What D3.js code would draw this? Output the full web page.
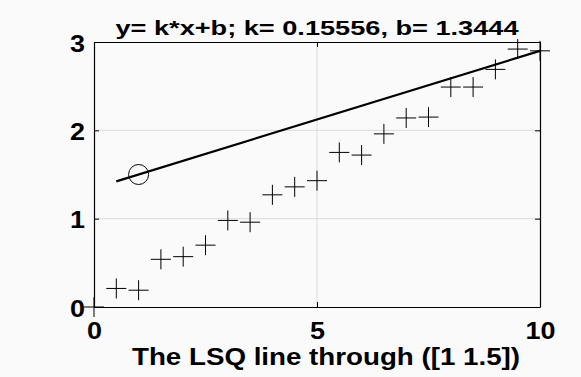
<!DOCTYPE html>
<html>
<head>
<meta charset="utf-8">
<script src="https://cdn.jsdelivr.net/npm/d3@7"></script>
<style>
  body { margin: 0; background: #fafafa; }
  svg { display: block; }
  text { font-family: "Liberation Sans", Arial, sans-serif; font-weight: bold; fill: #000; }
</style>
</head>
<body>
<svg id="chart" width="581" height="377"></svg>
<script>
const xData = [0, 0.5, 1, 1.5, 2, 2.5, 3, 3.5, 4, 4.5, 5, 5.5, 6, 6.5, 7, 7.5, 8, 8.5, 9, 9.5, 10];
const yData = [0, 0.21, 0.19, 0.54, 0.57, 0.70, 0.98, 0.96, 1.27, 1.36, 1.43, 1.75, 1.72, 1.96, 2.14, 2.15, 2.49, 2.49, 2.69, 2.92, 2.90];
const fitK = 0.15556;
const fitB = 1.3444;
const fitX = [0.5, 10];
const anchorPt = [1, 1.5];
const xTicks = [0, 5, 10];
const yTicks = [0, 1, 2, 3];
const title = "y= k*x+b; k= 0.15556, b= 1.3444";
const xLabel = "The LSQ line through ([1 1.5])";

const svg = d3.select("#chart");
const margin = { top: 42, right: 41, bottom: 70, left: 94 };
const width = 581, height = 377;

const x = d3.scaleLinear().domain([0, 10]).range([margin.left, width - margin.right]);
const y = d3.scaleLinear().domain([0, 3]).range([height - margin.bottom, margin.top]);

// the reference font is wider than Arial, so stretch glyphs a bit
const digitW = 15;

// grid (inner ticks only)
svg.append("g")
  .selectAll("line")
  .data(xTicks.slice(1, -1))
  .join("line")
  .attr("x1", d => x(d)).attr("x2", d => x(d))
  .attr("y1", y(0)).attr("y2", y(3))
  .attr("stroke", "#dcdcdc");
svg.append("g")
  .selectAll("line")
  .data(yTicks.slice(1, -1))
  .join("line")
  .attr("y1", d => y(d)).attr("y2", d => y(d))
  .attr("x1", x(0)).attr("x2", x(10))
  .attr("stroke", "#dcdcdc");

// axes, ticks pointing in
const axB = svg.append("g").attr("transform", `translate(0,${y(0)})`)
  .call(d3.axisBottom(x).tickValues(xTicks).tickSizeInner(-5).tickSizeOuter(0).tickFormat(d3.format("d")));
const axT = svg.append("g").attr("transform", `translate(0,${y(3)})`)
  .call(d3.axisTop(x).tickValues(xTicks).tickSizeInner(-5).tickSizeOuter(0).tickFormat(""));
const axL = svg.append("g").attr("transform", `translate(${x(0)},0)`)
  .call(d3.axisLeft(y).tickValues(yTicks).tickSizeInner(-5).tickSizeOuter(0).tickFormat(d3.format("d")));
const axR = svg.append("g").attr("transform", `translate(${x(10)},0)`)
  .call(d3.axisRight(y).tickValues(yTicks).tickSizeInner(-5).tickSizeOuter(0).tickFormat(""));

[axB, axT, axL, axR].forEach(g => {
  g.select(".domain").attr("stroke", "#000").attr("stroke-width", 1.2);
  g.selectAll(".tick line").attr("stroke", "#000");
  g.selectAll("text")
    .attr("font-size", 23).attr("font-family", null)
    .attr("textLength", function () { return this.textContent.length * digitW; })
    .attr("lengthAdjust", "spacingAndGlyphs");
});
axB.selectAll(".tick text").attr("y", 31.5).attr("dy", 0);
axL.selectAll(".tick text").attr("x", -9).attr("dy", "0.4em");

// data points as plus markers
const pl = 10;
const pts = svg.append("g").selectAll("g").data(xData.map((d, i) => [d, yData[i]])).join("g")
  .attr("transform", d => `translate(${x(d[0])},${y(d[1])})`);
pts.append("line").attr("x1", -pl).attr("x2", pl).attr("stroke", "#000");
pts.append("line").attr("y1", -pl).attr("y2", pl).attr("stroke", "#000");

// fitted line
svg.append("path")
  .datum(fitX.map(v => [v, fitK * v + fitB]))
  .attr("d", d3.line().x(d => x(d[0])).y(d => y(d[1])))
  .attr("stroke", "#000").attr("stroke-width", 2.2).attr("fill", "none");

// point the line passes through
svg.append("circle")
  .attr("cx", x(anchorPt[0])).attr("cy", y(anchorPt[1]))
  .attr("r", 10).attr("fill", "none").attr("stroke", "#000");

svg.append("text")
  .attr("x", (x(0) + x(10)) / 2).attr("y", 35)
  .attr("text-anchor", "middle").attr("font-size", 21)
  .attr("textLength", 403).attr("lengthAdjust", "spacingAndGlyphs")
  .text(title);

svg.append("text")
  .attr("x", 326).attr("y", 365)
  .attr("text-anchor", "middle").attr("font-size", 23)
  .attr("textLength", 388).attr("lengthAdjust", "spacingAndGlyphs")
  .text(xLabel);
</script>
</body>
</html>
